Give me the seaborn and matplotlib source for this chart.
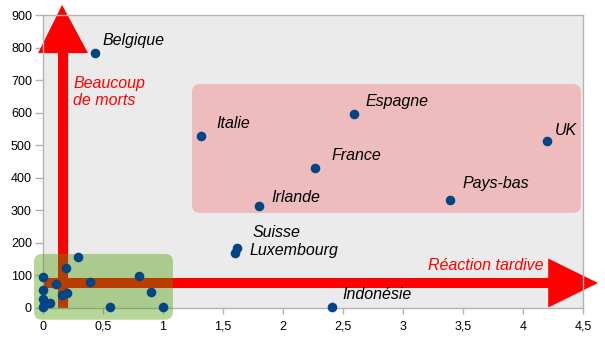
import numpy as np
import pandas as pd
import matplotlib
matplotlib.use("Agg")
import matplotlib.pyplot as plt
from matplotlib.patches import Polygon, FancyBboxPatch
import seaborn as sns

# ---------------- data ----------------
labeled_names = ["Belgique", "Italie", "Espagne", "UK", "France", "Irlande",
                 "Pays-bas", "Suisse", "Luxembourg", "Indonésie"]
labeled_x = [0.43, 1.32, 2.59, 4.20, 2.27, 1.80, 3.39, 1.62, 1.60, 2.41]
labeled_y = [783, 528, 595, 514, 431, 313, 332, 184, 170, 4]

other_x = [0.29, 0.19, 0.00, 0.11, 0.39, 0.00, 0.20, 0.16, 0.00, 0.01,
           0.06, 0.00, 0.56, 0.80, 0.90, 1.00]
other_y = [156, 122, 96, 73, 79, 55, 47, 40, 27, 10,
           14, 2, 2, 98, 49, 4]

x_ticks = [0, 0.5, 1, 1.5, 2, 2.5, 3, 3.5, 4, 4.5]
x_tick_labels = ["0", "0,5", "1", "1,5", "2", "2,5", "3", "3,5", "4", "4,5"]
y_ticks = [0, 100, 200, 300, 400, 500, 600, 700, 800, 900]

arrow_y_text = "Beaucoup\nde morts"
arrow_x_text = "Réaction tardive"

# label offsets in pixels (dx, dy)
label_offsets = {
    "Belgique": (8, 13), "Italie": (15, 13), "Espagne": (12, 13),
    "UK": (8, 10), "France": (16, 12), "Irlande": (12, 9),
    "Pays-bas": (13, 16), "Suisse": (15, 16), "Luxembourg": (14, 2),
    "Indonésie": (10, 12),
}

df = pd.DataFrame({
    "x": labeled_x + other_x,
    "y": labeled_y + other_y,
})

# ---------------- style ----------------
sns.set_style("white")
plt.rcParams["font.family"] = ["Liberation Sans", "DejaVu Sans"]

fig = plt.figure(figsize=(6.05, 3.4), dpi=100)
ax = fig.add_axes([43 / 605, 32 / 340, 540 / 605, 293 / 340])
ax.set_facecolor("#ebebeb")

ax.set_xlim(0, 4.5)
ax.set_ylim(0, 900)

# --- red arrows (decoration) ---
red = "#ff0000"
# vertical arrow
vx, vhw, vhead_hw = 0.167, 0.042, 0.208
vbase, vtip = 783, 931
vert = Polygon([(vx - vhw, 0), (vx - vhw, vbase), (vx - vhead_hw, vbase),
                (vx - 0.008, vtip), (vx + vhead_hw, vbase), (vx + vhw, vbase),
                (vx + vhw, 0)], closed=True, facecolor=red, edgecolor="none",
               zorder=2, clip_on=False)
ax.add_patch(vert)
# horizontal arrow
hy, hhw, hhead_hw = 76.8, 15.4, 75.3
hbase, htip = 4.21, 4.625
horz = Polygon([(0, hy - hhw), (hbase, hy - hhw), (hbase, hy - hhead_hw),
                (htip, hy), (hbase, hy + hhead_hw), (hbase, hy + hhw),
                (0, hy + hhw)], closed=True, facecolor=red, edgecolor="none",
               zorder=2, clip_on=False)
ax.add_patch(horz)

# --- rounded boxes ---
r = 0.067
asp = 368
green = FancyBboxPatch((-0.075, -36), 1.158, 202,
                       boxstyle=f"round,pad=0,rounding_size={r}",
                       mutation_aspect=asp, facecolor=(76/255, 153/255, 0, 0.4),
                       edgecolor="none", zorder=3, clip_on=False)
ax.add_patch(green)
pink = FancyBboxPatch((1.242, 292), 3.241, 396,
                      boxstyle=f"round,pad=0,rounding_size={r}",
                      mutation_aspect=asp, facecolor=(1, 0, 0, 0.2),
                      edgecolor="none", zorder=1.5, clip_on=False)
ax.add_patch(pink)

# --- points ---
sns.scatterplot(data=df, x="x", y="y", ax=ax, color="#004586", s=48,
                linewidth=0, zorder=5, clip_on=False)

for name, xv, yv in zip(labeled_names, labeled_x, labeled_y):
    dx, dy = label_offsets[name]
    ax.annotate(name, (xv, yv), xytext=(dx, dy), textcoords="offset pixels",
                ha="left", va="center", fontsize=11.5, style="italic",
                color="black", zorder=6)

ax.text((73 - 43) / 120, (308 - 92) / 293 * 900, arrow_y_text,
        color=red, style="italic", fontsize=11.5, ha="left", va="center",
        linespacing=1.15, zorder=6)
ax.text((543 - 43) / 120, (308 - 265) / 293 * 900, arrow_x_text,
        color=red, style="italic", fontsize=11.5, ha="right", va="center",
        zorder=6)

# --- axes styling ---
ax.set_xticks(x_ticks)
ax.set_xticklabels(x_tick_labels)
ax.set_yticks(y_ticks)
ax.set_xlabel("")
ax.set_ylabel("")
for s in ax.spines.values():
    s.set_color("#b3b3b3")
    s.set_linewidth(1)
ax.tick_params(axis="x", length=4, width=1, color="#b3b3b3", pad=5,
               labelsize=9, labelcolor="black", bottom=True)
ax.tick_params(axis="y", length=6, width=1, color="#b3b3b3", pad=2,
               labelsize=9, labelcolor="black", left=True)
ax.grid(False)

fig.savefig("out.png", dpi=100, facecolor="white")
